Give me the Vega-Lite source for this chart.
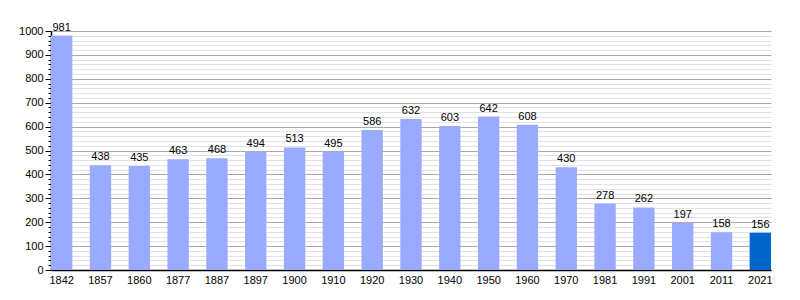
{
  "$schema": "https://vega.github.io/schema/vega-lite/v6.json",
  "width": 720,
  "height": 239,
  "autosize": {"type": "none"},
  "padding": {"left": 51, "top": 31, "right": 29, "bottom": 30},
  "background": "white",
  "config": {
    "view": {"stroke": null},
    "font": "Liberation Sans",
    "axis": {"labelFont": "Liberation Sans", "labelFontSize": 11, "labelColor": "#000"}
  },
  "data": {
    "values": [
      {"year": "1842", "pop": 981},
      {"year": "1857", "pop": 438},
      {"year": "1860", "pop": 435},
      {"year": "1877", "pop": 463},
      {"year": "1887", "pop": 468},
      {"year": "1897", "pop": 494},
      {"year": "1900", "pop": 513},
      {"year": "1910", "pop": 495},
      {"year": "1920", "pop": 586},
      {"year": "1930", "pop": 632},
      {"year": "1940", "pop": 603},
      {"year": "1950", "pop": 642},
      {"year": "1960", "pop": 608},
      {"year": "1970", "pop": 430},
      {"year": "1981", "pop": 278},
      {"year": "1991", "pop": 262},
      {"year": "2001", "pop": 197},
      {"year": "2011", "pop": 158},
      {"year": "2021", "pop": 156}
    ]
  },
  "encoding": {
    "x": {
      "field": "year",
      "type": "ordinal",
      "sort": null,
      "scale": {"paddingInner": 0.45, "paddingOuter": 0},
      "axis": {
        "title": null,
        "labelAngle": 0,
        "ticks": false,
        "labelPadding": 4,
        "domainColor": "#000",
        "domainWidth": 1.5
      }
    },
    "y": {
      "field": "pop",
      "type": "quantitative",
      "scale": {"domain": [0, 1000], "nice": false},
      "axis": {
        "title": null,
        "format": "d",
        "values": [0,20,40,60,80,100,120,140,160,180,200,220,240,260,280,300,320,340,360,380,400,420,440,460,480,500,520,540,560,580,600,620,640,660,680,700,720,740,760,780,800,820,840,860,880,900,920,940,960,980,1000],
        "labelExpr": "datum.value % 100 === 0 ? datum.label : ''",
        "grid": true,
        "gridColor": {"condition": {"test": "datum.value % 100 === 0", "value": "#aaaaaa"}, "value": "#e2e2e2"},
        "gridWidth": 1,
        "tickColor": "#000",
        "tickSize": {"condition": {"test": "datum.value % 100 === 0", "value": 6}, "value": 3},
        "labelPadding": 2,
        "domainColor": "#000",
        "domainWidth": 1.5
      }
    }
  },
  "layer": [
    {
      "mark": {"type": "bar"},
      "encoding": {
        "color": {"condition": {"test": "datum.year === '2021'", "value": "#0066cc"}, "value": "#99aaff"}
      }
    },
    {
      "mark": {"type": "text", "dy": -8, "fontSize": 11, "color": "#000"},
      "encoding": {"text": {"field": "pop", "type": "quantitative"}}
    }
  ]
}
